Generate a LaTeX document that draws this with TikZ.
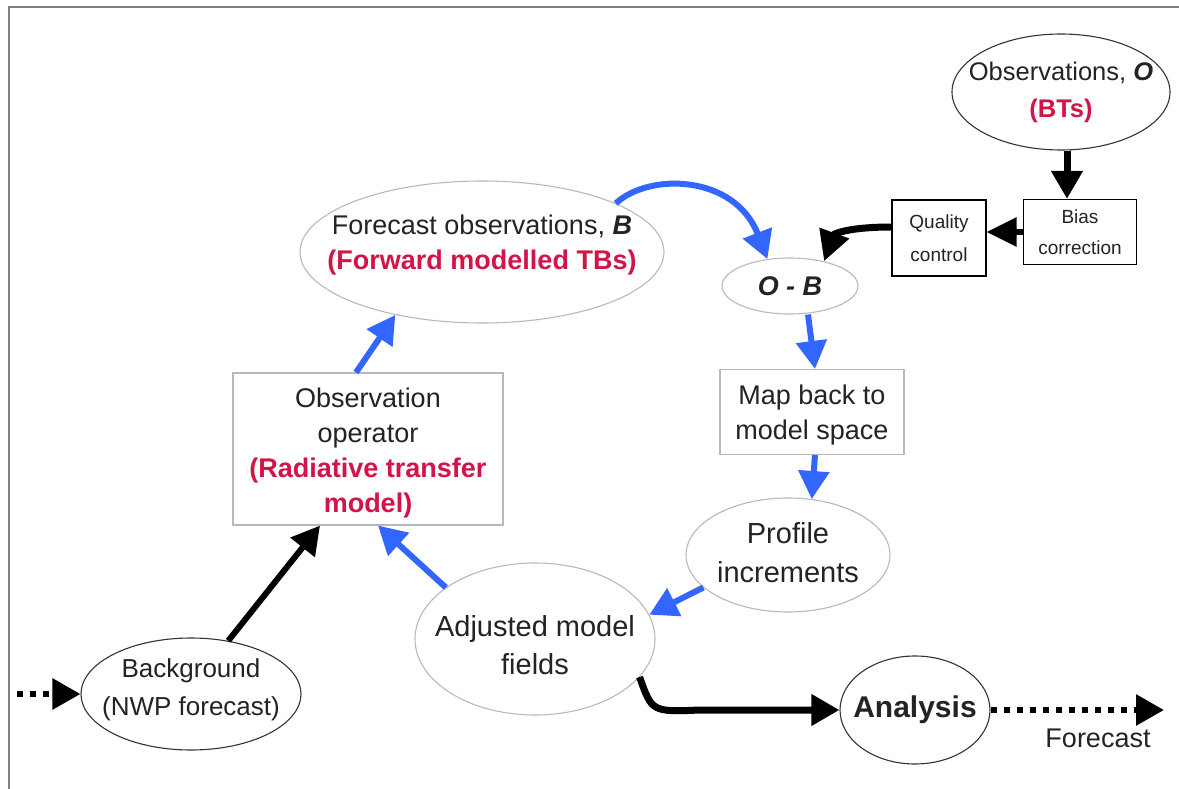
\documentclass[tikz,border=0pt]{standalone}
\usepackage{fontspec}
\setmainfont{Liberation Sans}
\usetikzlibrary{shapes.geometric,arrows.meta}
\definecolor{bl}{RGB}{51,102,255}
\definecolor{rd}{RGB}{210,20,70}
\definecolor{lg}{RGB}{185,185,185}
\definecolor{tx}{RGB}{35,35,35}
\newcommand\fz[2]{\fontsize{#1}{#2}\selectfont}
\begin{document}
\begin{tikzpicture}[x=1pt,y=-1pt,
  every node/.style={inner sep=0pt, align=center, text=tx},
  ovl/.style={ellipse, draw=#1, line width=1.1pt},
  ovl/.default=lg,
  boxn/.style={rectangle, draw=#1, line width=1.1pt},
  boxn/.default=lg,
  blu/.style={draw=bl, line width=6pt, -{Triangle[length=28pt,width=30pt]}},
  blk/.style={draw=black, line width=6pt, -{Triangle[length=28pt,width=30pt]}},
  dotline/.style={draw=black, line width=6pt, dash pattern=on 6pt off 7pt, -{Triangle[length=28pt,width=30pt]}}]
\useasboundingbox (0,0) rectangle (1179,789);
\fill[white] (0,0) rectangle (1179,789);
\draw[line width=2.5pt, gray] (9,789) -- (9,7) -- (1179,7);

% nodes
\node[ovl=black!80, minimum width=218, minimum height=116,
  label={[font=\fz{25.5}{37}]center:{Observations, \textbf{\textit{O}}\\\textcolor{rd}{\textbf{(BTs)}}}}] (obs) at (1061,92) {};
\node[boxn=black, minimum width=113, minimum height=65, font=\fz{19}{31}] (bias) at (1080,232) {Bias\\correction};
\node[boxn=black, minimum width=94, minimum height=76, font=\fz{19}{33}] (qc) at (939,238) {Quality\\control};
\node[ovl, minimum width=136, minimum height=56,
  label={[font=\fz{27}{32}]center:{\textbf{\textit{O - B}}}}] (omb) at (790,286) {};
\node[ovl, minimum width=364, minimum height=142,
  label={[font=\fz{27}{35}, yshift=7pt]center:{Forecast observations, \textbf{\textit{B}}\\\textcolor{rd}{\textbf{(Forward modelled TBs)}}}}] (fobs) at (482,252) {};
\node[boxn, minimum width=184, minimum height=85,
  label={[font=\fz{27}{35}, yshift=-3pt]center:{Map back to\\model space}}] (map) at (812,412) {};
\node[ovl, minimum width=204, minimum height=114,
  label={[font=\fz{29}{39}, yshift=2pt]center:{Profile\\increments}}] (prof) at (788,555) {};
\node[ovl, minimum width=240, minimum height=152,
  label={[font=\fz{29}{38}, yshift=-6pt]center:{Adjusted model\\fields}}] (adj) at (535,639) {};
\node[boxn, minimum width=270, minimum height=152,
  label={[font=\fz{27}{35}, yshift=-4pt]center:{Observation\\operator\\\textcolor{rd}{\textbf{(Radiative transfer}}\\\textcolor{rd}{\textbf{model)}}}}] (obsop) at (368,449) {};
\node[ovl=black!80, minimum width=220, minimum height=112,
  label={[font=\fz{26}{38}, yshift=4pt]center:{Background\\(NWP forecast)}}] (bg) at (191,694) {};
\node[ovl=black!80, minimum width=150, minimum height=108,
  label={[font=\fz{30}{36}]center:{\textbf{Analysis}}}] (ana) at (915,710) {};
\node[font=\fz{27}{32}] (fc) at (1098,738) {Forecast};
\coordinate (din) at (17,694);
\coordinate (dout) at (1164,710);

% connectors
\draw[blk, line width=7pt] ([xshift=6pt]obs.south) -- ([xshift=-13pt]bias.north);
\draw[blk, -{Triangle[length=30pt,width=28pt]}] (bias.west) -- (bias.west -| qc.east);
\draw[blk, line width=7pt, -{Triangle[length=30pt,width=30pt]}] ([yshift=11pt]qc.west) .. controls (848,227) and (834,234) .. (omb.36);
\draw[blu] (fobs.20) .. controls (650,172) and (735,175) .. (omb.130);
\draw[blu] ([xshift=18pt]omb.south) -- ([xshift=3pt]map.north);
\draw[blu] ([xshift=3pt]map.south) -- (prof.67);
\draw[blu] (prof.201) -- (adj.12);
\draw[blu] (adj.150) -- ([xshift=10pt]obsop.south);
\draw[blu] ([xshift=-12pt]obsop.north) -- (fobs.216);
\draw[blk] (bg.55) -- ([xshift=-48pt]obsop.south);
\draw[dotline] (din) -- (bg.west);
\draw[blk, line width=7pt] (adj.-20) .. controls (652,712) .. (700,710) -- (ana.west);
\draw[dotline] (ana.east) -- (dout);
\end{tikzpicture}
\end{document}
